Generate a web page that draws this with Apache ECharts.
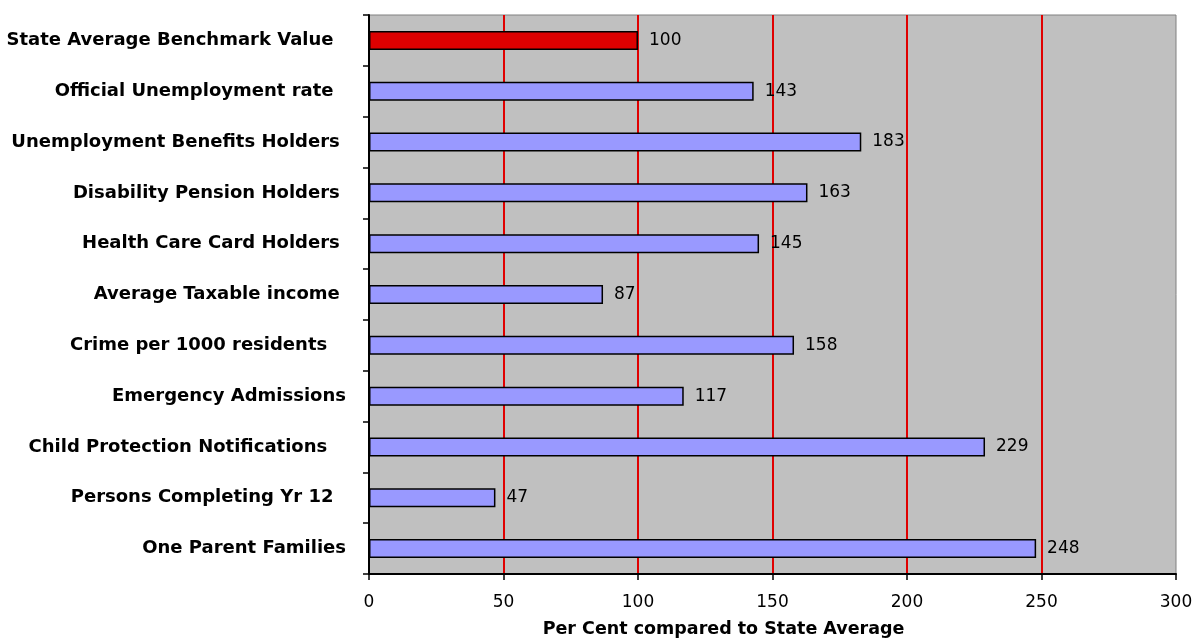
<!DOCTYPE html>
<html>
<head>
<meta charset="utf-8">
<script src="https://cdn.jsdelivr.net/npm/echarts@6/dist/echarts.min.js"></script>
<style>
html,body{margin:0;padding:0;background:#fff;}
#chart{width:1192px;height:642px;}
</style>
</head>
<body>
<div id="chart"></div>
<script>
const categories = [
  'State Average Benchmark Value  ',
  'Official Unemployment rate  ',
  'Unemployment Benefits Holders ',
  'Disability Pension Holders ',
  'Health Care Card Holders ',
  'Average Taxable income ',
  'Crime per 1000 residents   ',
  'Emergency Admissions',
  'Child Protection Notifications   ',
  'Persons Completing Yr 12  ',
  'One Parent Families'
];
const values = [100, 143, 183, 163, 145, 87, 158, 117, 229, 47, 248];
const benchmarkIndex = 0;
const xTicks = { min: 0, max: 300, interval: 50 };
const xAxisTitle = 'Per Cent compared to State Average';

const FONT = 'DejaVu Sans';
const chart = echarts.init(document.getElementById('chart'), null, { renderer: 'canvas' });
chart.setOption({
  animation: false,
  backgroundColor: '#ffffff',
  grid: {
    left: 369, right: 16, top: 15, bottom: 68,
    outerBoundsMode: 'none',
    containLabel: false,
    show: true, backgroundColor: '#C0C0C0', borderColor: '#808080', borderWidth: 1
  },
  xAxis: {
    type: 'value',
    min: xTicks.min, max: xTicks.max, interval: xTicks.interval,
    name: xAxisTitle,
    nameLocation: 'middle',
    nameGap: 46,
    nameTextStyle: { fontFamily: FONT, fontWeight: 'bold', fontSize: 17.5, color: '#000', padding: [0, 98, 0, 0] },
    axisLine: { show: true, lineStyle: { color: '#000', width: 2 } },
    axisTick: { show: true, length: 6, lineStyle: { color: '#000', width: 1.5 } },
    axisLabel: { margin: 20, fontFamily: FONT, fontSize: 17, color: '#000' },
    splitLine: { show: true, showMinLine: false, showMaxLine: false, lineStyle: { color: '#E00000', width: 2 } }
  },
  yAxis: {
    type: 'category',
    inverse: true,
    data: categories,
    axisLine: { show: true, lineStyle: { color: '#000', width: 2 } },
    axisTick: { show: true, length: 6, lineStyle: { color: '#000', width: 1.5 } },
    axisLabel: { margin: 23, fontFamily: FONT, fontWeight: 'bold', fontSize: 18, color: '#000' },
    splitLine: { show: false }
  },
  series: [{
    type: 'bar',
    barWidth: 19,
    data: values.map((v, i) => i === benchmarkIndex
      ? { value: v, itemStyle: { color: '#DD0000' } }
      : v),
    itemStyle: { color: '#9999FF', borderColor: '#000', borderWidth: 1.5 },
    label: {
      show: true, position: 'right', distance: 11,
      fontFamily: FONT, fontSize: 17, color: '#000'
    }
  }]
});
</script>
</body>
</html>
